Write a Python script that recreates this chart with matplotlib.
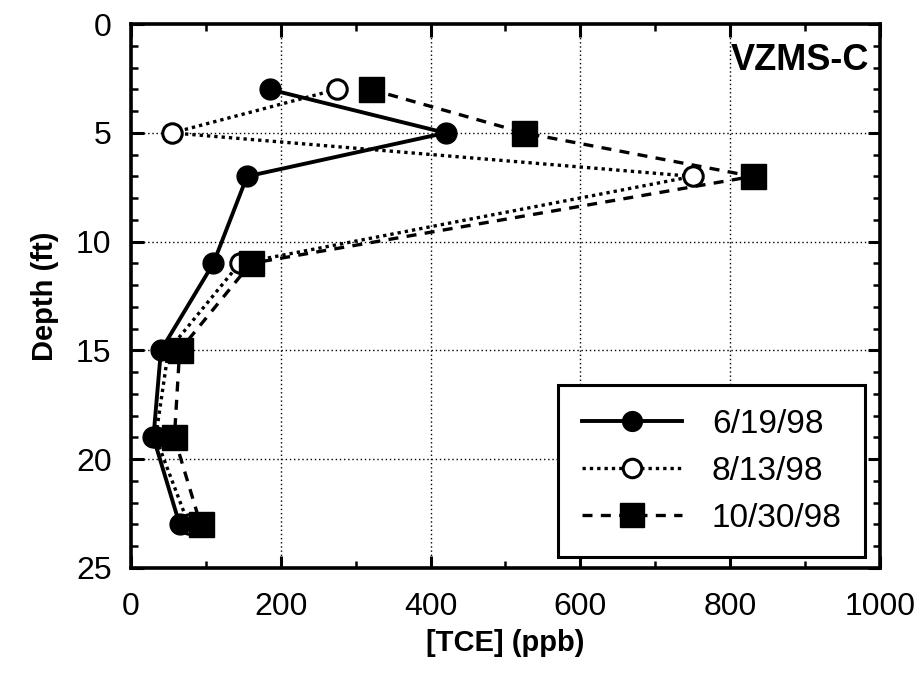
import numpy as np
import matplotlib.pyplot as plt
from matplotlib.ticker import MultipleLocator

# depth profile data
depth = [3, 5, 7, 11, 15, 19, 23]
tce_0619 = [185, 420, 155, 110, 40, 30, 65]
tce_0813 = [275, 55, 750, 145, 50, 33, 77]
tce_1030 = [320, 525, 830, 160, 65, 58, 93]
labels = ['6/19/98', '8/13/98', '10/30/98']

plt.rcParams['font.family'] = ['Liberation Sans', 'DejaVu Sans']

fig = plt.figure(figsize=(9.19, 6.79), dpi=100)
ax = fig.add_axes([0.1425, 0.1635, 0.815, 0.801])

# open circles lowest, squares over them, filled circles on top
ax.plot(tce_0813, depth, color='black', linestyle=(0, (1, 1.2)), linewidth=2.4,
        marker='o', markersize=14, markerfacecolor='white', markeredgecolor='black',
        markeredgewidth=2.2, label=labels[1], zorder=3)
ax.plot(tce_1030, depth, color='black', linestyle=(0, (3, 2.5)), linewidth=2.4,
        marker='s', markersize=18, markerfacecolor='black', markeredgecolor='black',
        label=labels[2], zorder=4)
ax.plot(tce_0619, depth, color='black', linestyle='-', linewidth=2.8,
        marker='o', markersize=15, markerfacecolor='black', markeredgecolor='black',
        label=labels[0], zorder=5)

ax.set_xlim(0, 1000)
ax.set_ylim(25, 0)
ax.xaxis.set_major_locator(MultipleLocator(200))
ax.xaxis.set_minor_locator(MultipleLocator(100))
ax.yaxis.set_major_locator(MultipleLocator(5))
ax.yaxis.set_minor_locator(MultipleLocator(1))
ax.tick_params(which='both', direction='in', top=True, right=True, width=2.2,
               labelsize=23)
ax.tick_params(axis='x', which='both', pad=17)
ax.tick_params(axis='y', which='both', pad=14)
ax.tick_params(which='major', length=9)
ax.tick_params(which='minor', length=5, width=1.8)
for sp in ax.spines.values():
    sp.set_linewidth(2.6)

ax.grid(True, which='major', color='black', linestyle=(0, (1, 2)), linewidth=1.0)

ax.set_xlabel('[TCE] (ppb)', fontsize=21, fontweight='bold', labelpad=5)
ax.set_ylabel('Depth (ft)', fontsize=21, fontweight='bold', labelpad=12)

ax.text(0.985, 0.965, 'VZMS-C', transform=ax.transAxes, ha='right', va='top',
        fontsize=26, fontweight='bold')

handles, labs = ax.get_legend_handles_labels()
order = [2, 0, 1]
leg = ax.legend([handles[i] for i in order], [labs[i] for i in order],
                loc='lower right', bbox_to_anchor=(0.98, 0.02), fontsize=24,
                handlelength=3.0, handletextpad=0.9, labelspacing=0.48,
                borderpad=0.7, borderaxespad=0, fancybox=False, framealpha=1,
                edgecolor='black', markerscale=0.95)
leg.get_frame().set_linewidth(2.2)
leg.set_zorder(10)

fig.savefig('out.png', dpi=100)
